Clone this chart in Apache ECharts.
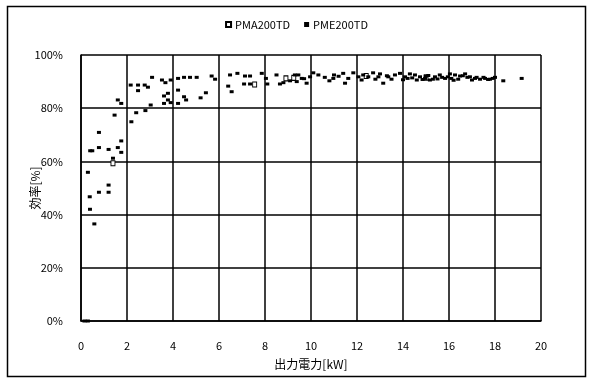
<!DOCTYPE html>
<html><head><meta charset="utf-8">
<script src="https://cdn.jsdelivr.net/npm/echarts@6/dist/echarts.min.js"></script>
<style>html,body{margin:0;padding:0;background:#fff}#c{width:593px;height:380px}</style>
</head><body><div id="c"></div>
<script>
const seriesNames = ["PMA200TD", "PME200TD"];
const xTicks = [0,2,4,6,8,10,12,14,16,18,20];
const yTicks = [0,20,40,60,80,100];
// PMA200TD (hollow squares)
const pmaX = [1.39, 7.55, 8.91, 9.25, 12.4, 15.0];
const pmaY = [59.3, 88.9, 91.2, 91.4, 92.1, 91.5];
// PME200TD (filled squares)
const pmeX = [0.15,0.3,0.39,0.58,0.38,0.3,0.78,1.2,1.2,1.39,0.49,0.4,0.78,1.2,1.6,1.75,1.75,0.78,1.46,1.6,1.75,2.16,2.48,2.48,2.77,2.91,3.09,2.19,2.4,2.8,3.03,3.52,3.67,3.9,3.61,3.78,3.78,3.61,3.9,4.22,4.22,4.22,4.48,4.48,4.74,5.03,5.68,5.83,4.57,5.2,5.43,6.48,6.8,6.4,6.55,7.13,7.35,7.09,7.35,7.86,8.04,8.1,8.5,8.65,8.8,9.09,9.3,9.38,9.45,9.6,9.81,9.96,10.1,10.32,10.97,11.4,11.48,11.62,11.84,12.06,12.27,12.49,12.7,12.93,13.14,13.36,13.65,13.87,14.09,14.3,14.52,14.74,14.96,15.17,15.39,15.6,15.83,16.04,16.26,16.48,16.7,16.91,17.13,17.35,17.57,17.78,18.0,18.36,19.16,14.6,15.0,15.3,15.7,16.1,16.4,16.8,17.0,17.5,17.9,14.2,13.5,12.2,11.0,10.6,10.8,13.0,14.4,14.85,15.1,15.5,15.95,16.2,16.6,17.2,17.7,12.8,13.3,14.0,11.2,9.7];
const pmeY = [0,0,42,36.5,46.7,55.9,48.4,48.4,51.1,61.2,64,64,65.2,64.5,65.2,67.7,63.4,70.9,77.4,83.1,81.8,88.7,88.7,86.6,88.7,87.9,91.6,74.9,78.3,79.1,81.2,90.6,89.6,90.6,84.6,85.6,83.1,81.8,82.1,91.2,86.8,81.8,84.3,91.6,91.6,91.6,92.1,90.9,83.1,83.9,85.8,92.5,93.1,88.3,86.2,92.1,92.1,89.1,89.1,93.1,91.2,89.1,92.5,89.1,89.6,90.3,92.5,90.0,92.5,91.2,89.4,91.8,93.3,92.5,91.2,93.1,89.4,91.2,93.3,91.8,92.5,91.8,93.3,91.8,89.4,91.8,92.5,93.1,91.8,92.9,92.5,91.8,91.2,90.6,91.8,92.5,91.2,92.9,92.5,92.1,92.9,91.8,91.2,90.9,91.2,90.9,91.6,90.3,91.2,90.6,92.1,90.9,91.6,91.2,90.9,91.6,90.6,91.6,91.2,91.2,90.9,90.6,92.5,91.6,90.3,92.9,91.4,90.8,92.3,91.0,91.8,90.5,92.2,91.6,90.8,90.9,92.2,90.7,92.0,91.1];

const zip = (xs, ys) => xs.map((x, i) => [x, ys[i]]);
const FONT = '"Noto Sans CJK JP", "DejaVu Sans", sans-serif';
const chart = echarts.init(document.getElementById('c'), null, {renderer: 'canvas'});
chart.setOption({
  animation: false,
  backgroundColor: '#fff',
  textStyle: {fontFamily: FONT, color: '#000'},
  graphic: [{type: 'rect', shape: {x: 7.5, y: 6.5, width: 578, height: 370}, style: {fill: 'none', stroke: '#000', lineWidth: 1.5}, silent: true}],
  legend: {
    top: 14, left: 'center', itemWidth: 5, itemHeight: 5, itemGap: 14,
    textStyle: {fontSize: 11, color: '#000', fontFamily: FONT, padding: [0, 0, 0, -1]},
    data: [{name: seriesNames[0], icon: 'rect'}, {name: seriesNames[1], icon: 'rect'}]
  },
  grid: {left: 81, right: 52, top: 55, bottom: 59},
  xAxis: {
    type: 'value', min: xTicks[0], max: xTicks[xTicks.length-1], interval: 2,
    name: '出力電力[kW]', nameLocation: 'middle', nameGap: 37,
    nameTextStyle: {fontSize: 12, color: '#000'},
    axisLine: {lineStyle: {color: '#000', width: 1.5}},
    axisTick: {show: false},
    axisLabel: {fontSize: 11, color: '#000', margin: 19},
    splitLine: {show: true, lineStyle: {color: '#000', width: 1.5}}
  },
  yAxis: {
    type: 'value', min: yTicks[0], max: yTicks[yTicks.length-1], interval: 20,
    name: '効率[%]', nameLocation: 'middle', nameGap: 40, nameMoveOverlap: false,
    nameTextStyle: {fontSize: 12, color: '#000'},
    axisLine: {show: true, lineStyle: {color: '#000', width: 1.5}},
    axisTick: {show: false},
    axisLabel: {fontSize: 11, color: '#000', margin: 18, formatter: v => v + '%'},
    splitLine: {show: true, lineStyle: {color: '#000', width: 1.5}}
  },
  series: [
    {name: seriesNames[0], type: 'scatter', symbol: 'rect', symbolSize: [4, 5],
     itemStyle: {color: '#fff', borderColor: '#000', borderWidth: 1, opacity: 1},
     data: zip(pmaX, pmaY), z: 3},
    {name: seriesNames[1], type: 'scatter', symbol: 'rect', symbolSize: [4, 3],
     itemStyle: {color: '#000', opacity: 1},
     data: zip(pmeX, pmeY), z: 4}
  ]
});
</script></body></html>
